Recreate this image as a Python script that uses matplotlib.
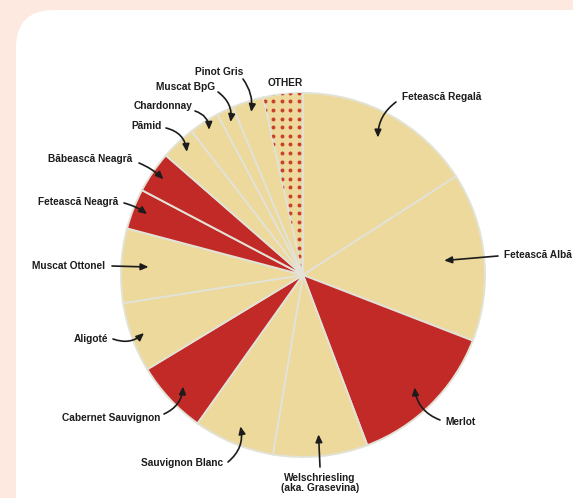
import numpy as np
import matplotlib.pyplot as plt
from matplotlib.patches import FancyBboxPatch

# grape varieties, clockwise from 12 o'clock
varieties = ["Fetească Regală", "Fetească Albă", "Merlot",
             "Welschriesling\n(aka. Grasevina)", "Sauvignon Blanc",
             "Cabernet Sauvignon", "Aligoté", "Muscat Ottonel",
             "Fetească Neagră", "Băbească Neagră", "Pămid", "Chardonnay",
             "Muscat BpG", "Pinot Gris", "OTHER"]
shares = [15.9, 15.0, 13.4, 8.4, 7.2, 6.5, 6.2, 6.6, 3.6, 3.7, 3.1, 2.7,
          1.5, 2.8, 3.5]
red_grape = [False, False, True, False, False, True, False, False,
             True, True, False, False, False, False, False]

YELLOW = "#ecd99b"
RED = "#c12a27"
DOT = "#c9402c"
PEACH = "#fde9df"
INK = "#1c1c1c"

W, H = 573, 498
CX, CY, R = 303, 275, 182

# label layout in pixels: text x, text y, alignment, arrow start, tip radius, curvature
label_layout = [
    (402, 97, "left", (396, 102), 0.86, 0.25),
    (504, 255, "left", (498, 256), 0.78, 0.0),
    (445, 422, "left", (440, 420), 0.87, -0.3),
    (320, 483, "center", (320, 467), 0.88, 0.0),
    (223, 463, "right", (228, 462), 0.90, 0.3),
    (160, 418, "right", (164, 414), 0.90, 0.3),
    (108, 339, "right", (113, 339), 0.93, 0.3),
    (105, 266, "right", (112, 266), 0.85, 0.0),
    (118, 202, "right", (124, 203), 0.92, -0.1),
    (132, 159, "right", (139, 163), 0.93, -0.1),
    (162, 126, "right", (166, 128), 0.93, -0.35),
    (192, 106, "right", (195, 111), 0.95, -0.35),
    (215, 87, "right", (218, 92), 0.93, -0.3),
    (243, 72, "right", (243, 79), 0.94, -0.2),
    (285, 83, "center", None, 0, 0),
]


def px(x, y):
    return (x - CX) / R, (CY - y) / R


fig = plt.figure(figsize=(W / 100, H / 100), dpi=100)
fig.patch.set_facecolor(PEACH)

bg = fig.add_axes([0, 0, 1, 1])
bg.set_xlim(0, W)
bg.set_ylim(H, 0)
bg.axis("off")
bg.add_patch(FancyBboxPatch((16, 10), 640, 560,
                            boxstyle="round,pad=0,rounding_size=38",
                            fc="white", ec="none"))

ax = fig.add_axes([(CX - R) / W, (H - CY - R) / H, 2 * R / W, 2 * R / H])
colors = [RED if r else YELLOW for r in red_grape]
wedges, _ = ax.pie(shares, colors=colors, startangle=90, counterclock=False,
                   wedgeprops=dict(edgecolor="#e3e2d6", linewidth=1.4))
ax.set_xlim(-1, 1)
ax.set_ylim(-1, 1)
ax.set_aspect("auto")
ax.patch.set_visible(False)

# dotted texture on the "OTHER" slice, a square grid clipped to the wedge
step = 8.6 / R
gx, gy = np.meshgrid(np.arange(-1, 1, step) + px(266, 0)[0] % step,
                     np.arange(-1, 1, step) + px(0, 100)[1] % step)
dots = ax.scatter(gx.ravel(), gy.ravel(), s=8, marker="o", color=DOT,
                  linewidths=0, zorder=3)
dots.set_clip_path(wedges[-1])

font = ["Liberation Sans", "DejaVu Sans"]
for w, name, (tx, ty, ha, start, rt, rad) in zip(wedges, varieties, label_layout):
    ax.text(*px(tx, ty), name, ha=ha, va="center", fontsize=7.3,
            fontweight="bold", family=font, color=INK, linespacing=1.05,
            clip_on=False)
    if start is None:
        continue
    mid = np.deg2rad((w.theta1 + w.theta2) / 2)
    tip = (rt * np.cos(mid), rt * np.sin(mid))
    ax.annotate("", xy=tip, xytext=px(*start), annotation_clip=False,
                arrowprops=dict(arrowstyle="-|>,head_length=0.45,head_width=0.2",
                                color=INK, lw=1.2, shrinkA=0, shrinkB=0,
                                connectionstyle=f"arc3,rad={rad}"))

fig.savefig("out.png", dpi=100, facecolor=PEACH)
